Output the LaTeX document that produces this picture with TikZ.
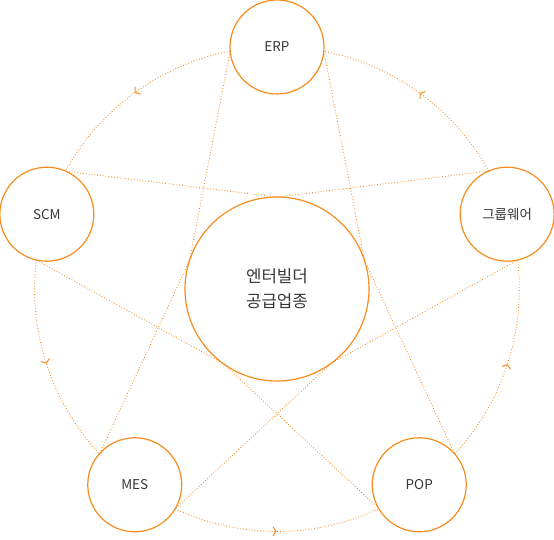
\documentclass[tikz,border=0pt]{standalone}
\usepackage{fontspec}
\setmainfont{Noto Sans CJK KR}
\usetikzlibrary{arrows.meta, decorations.markings}
\definecolor{lineorange}{RGB}{247,140,30}
\definecolor{labelgray}{RGB}{55,55,55}

\begin{document}
\begin{tikzpicture}[x=1pt, y=1pt,
  unit/.style={circle, draw=lineorange, line width=1.2pt, minimum size=94pt,
    inner sep=0pt, outer sep=0pt, text=labelgray, font=\fontsize{13.5}{16}\selectfont},
  hub/.style={circle, draw=lineorange, line width=1.2pt, minimum size=184pt,
    inner sep=0pt, outer sep=0pt, text=labelgray, align=center,
    font=\fontsize{16.8}{25}\selectfont},
  star/.style={draw=lineorange, dotted, line width=0.85pt},
  ring/.style={draw=lineorange, dotted, line width=0.85pt, postaction={decorate},
    decoration={markings, mark=at position 0.5 with
      {\arrow{Straight Barb[length=3.2pt, width=9pt, line width=1pt]}}}}]
  \useasboundingbox (-277,-251) rectangle (277,289);

  % Center circle
  \node[hub] (hub) at (0,0) {엔터빌더\\공급업종};

  % Outer systems
  \node[unit] (erp) at (90:242) {ERP};
  \node[unit] (scm) at (162:242) {SCM};
  \node[unit] (mes) at (234:242) {MES};
  \node[unit] (pop) at (306:242) {POP};
  \node[unit] (grp) at (18:242) {그룹웨어};

  % Ring arcs (counterclockwise flow)
  \draw[ring] (grp.113.572) arc[start angle=29.145, end angle=78.855, radius=242];
  \draw[ring] (erp.185.572) arc[start angle=101.145, end angle=150.855, radius=242];
  \draw[ring] (scm.257.572) arc[start angle=173.145, end angle=222.855, radius=242];
  \draw[ring] (mes.329.572) arc[start angle=245.145, end angle=294.855, radius=242];
  \draw[ring] (pop.41.572) arc[start angle=317.145, end angle=366.855, radius=242];

  % Star lines through the center circle
  \draw[star] (scm.66.428) -- (hub.90) -- (grp.113.572);
  \draw[star] (mes.138.428) -- (hub.162) -- (erp.185.572);
  \draw[star] (pop.210.428) -- (hub.234) -- (scm.257.572);
  \draw[star] (grp.-77.572) -- (hub.306) -- (mes.329.572);
  \draw[star] (erp.-5.572) -- (hub.18) -- (pop.41.572);
\end{tikzpicture}
\end{document}
